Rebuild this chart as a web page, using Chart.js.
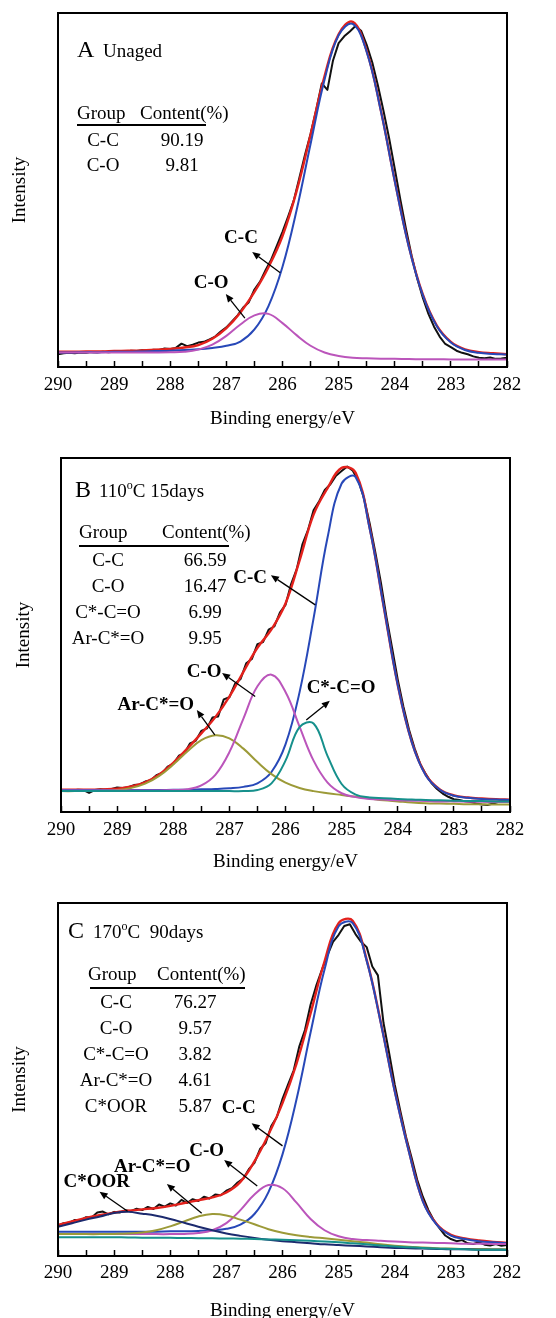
<!DOCTYPE html>
<html>
<head>
<meta charset="utf-8">
<title>C1s XPS spectra</title>
<script src="https://cdn.jsdelivr.net/npm/chart.js@4.4.1/dist/chart.umd.min.js"></script>
<style>
  html, body { margin: 0; padding: 0; background: #fff; overflow: hidden; }
  body { width: 556px; height: 1318px; position: relative; }
  canvas { position: absolute; left: 0; }
</style>
</head>
<body>
<canvas id="panelA" width="556" height="440" style="top:0"></canvas>
<canvas id="panelB" width="556" height="440" style="top:440px"></canvas>
<canvas id="panelC" width="556" height="460" style="top:880px"></canvas>
<script>
// sampling grids in binding energy (eV): fitted peaks every 0.25, raw spectra every 0.1
function steps(from, to, step) {
  const out = [];
  const n = Math.round((from - to) / step);
  for (let i = 0; i <= n; i++) out.push(+(from - i * step).toFixed(2));
  return out;
}
const energyFit = steps(290, 282, 0.25);
const energyRaw = steps(290, 282, 0.1);
const xTickLabels = [290, 289, 288, 287, 286, 285, 284, 283, 282];

// ---- A: unaged ----
const aGroups = ['C-C', 'C-O'];
const aContent = ['90.19', '9.81'];
const aRaw = [3.6,3.9,4.0,3.9,4.1,4.0,4.2,4.1,4.3,4.2,
  4.3,4.4,4.3,4.6,4.5,4.7,4.6,4.9,4.8,5.2,
  5.1,5.4,6.6,5.9,6.3,6.9,7.1,7.8,8.6,10.0,
  11.2,12.9,14.6,16.8,18.3,21.9,24.1,27.4,30.4,34.3,
  38.2,42.5,47.0,53.4,59.9,65.8,72.6,80.1,78.3,86.6,
  91.5,93.4,94.8,96.3,95.0,91.0,86.0,79.5,72.3,64.6,
  56.0,47.3,39.0,31.5,25.0,19.6,15.0,11.4,8.6,6.5,
  5.6,4.6,4.0,3.6,3.0,2.6,2.5,2.7,2.3,2.4,
  2.6];
const aFit = [4.3,4.3,4.4,4.4,4.5,4.6,4.7,4.9,5.1,5.5,
  6.2,8.0,11.0,15.4,21.2,28.2,37.0,49.6,65.6,82.2,
  94.0,97.5,89.3,72.7,52.7,34.2,20.5,11.7,7.1,5.0,
  4.2,3.9,3.6];
const aCC = [4.1,4.1,4.2,4.2,4.3,4.3,4.4,4.5,4.6,4.8,
  5.0,5.4,6.0,7.2,10.6,17.2,28.3,44.2,63.0,81.2,
  93.7,96.9,89.0,72.5,52.5,34.0,20.3,11.5,6.9,4.8,
  4.0,3.7,3.5];
const aCO = [4.1,4.1,4.1,4.1,4.1,4.1,4.1,4.1,4.15,4.3,
  4.9,6.3,8.8,12.0,14.6,15.0,12.4,9.0,6.0,4.1,
  3.1,2.6,2.45,2.35,2.3,2.25,2.2,2.2,2.15,2.15,
  2.1,2.1,2.1];

// ---- B: 110 C, 15 days ----
const bGroups = ['C-C', 'C-O', 'C*-C=O', 'Ar-C*=O'];
const bContent = ['66.59', '16.47', '6.99', '9.95'];
const bRaw = [6.0,6.2,6.1,6.3,6.2,5.4,6.2,6.4,6.3,6.5,
  6.9,6.8,7.0,7.6,7.8,8.6,9.0,10.4,11.0,12.8,
  13.6,15.9,16.6,19.4,20.1,22.9,23.6,26.7,27.0,31.8,
  32.4,36.2,37.6,42.0,43.2,47.4,48.0,51.5,52.4,56.3,
  58.5,64.4,68.6,75.5,79.6,85.2,87.8,91.0,92.6,95.0,
  96.3,97.6,96.4,93.5,88.6,81.5,73.4,64.8,55.0,46.3,
  37.4,29.8,23.3,18.0,13.6,10.7,8.2,6.5,5.2,4.3,
  3.6,3.4,3.0,2.8,2.4,2.1,2.0,2.4,2.9,3.3,
  3.0];
const bFit = [6.3,6.3,6.3,6.4,6.6,7.2,8.4,10.6,13.9,17.9,
  22.2,26.8,32.6,39.6,46.4,51.6,58.9,71.0,84.0,91.5,
  97.2,95.8,80.3,58.0,35.9,19.8,10.5,6.4,4.7,4.1,
  3.8,3.6,3.5];
const bCC = [6.2,6.2,6.2,6.2,6.2,6.2,6.2,6.2,6.3,6.3,
  6.4,6.5,6.7,7.1,8.1,11.3,19.1,33.8,54.7,77.6,
  92.8,94.6,80.0,58.1,35.9,19.7,10.3,6.3,4.6,4.0,
  3.7,3.5,3.4];
const bCO = [6.1,6.1,6.1,6.1,6.1,6.1,6.1,6.1,6.2,6.4,
  7.5,10.5,16.9,26.4,35.5,38.8,33.9,24.1,14.5,8.3,
  5.3,4.2,3.7,3.5,3.3,3.2,3.1,3.0,3.0,2.9,
  2.9,2.8,2.8];
const bCCO = [5.9,5.9,5.9,5.9,5.9,5.9,5.9,5.9,5.9,5.9,
  5.9,5.9,5.9,5.9,6.2,8.1,14.5,24.0,25.0,15.8,
  7.9,4.9,4.1,3.9,3.7,3.5,3.4,3.3,3.2,3.1,
  3.1,3.0,3.0];
const bArCO = [5.9,5.9,5.95,6.0,6.2,6.8,8.0,10.2,13.4,17.1,
  20.3,21.7,20.8,17.9,14.1,10.7,8.3,6.8,5.9,5.3,
  4.8,4.3,3.8,3.3,3.0,2.7,2.5,2.4,2.3,2.2,
  2.2,2.1,2.1];

// ---- C: 170 C, 90 days ----
const cGroups = ['C-C', 'C-O', 'C*-C=O', 'Ar-C*=O', 'C*OOR'];
const cContent = ['76.27', '9.57', '3.82', '4.61', '5.87'];
const cRaw = [8.6,9.3,9.4,10.2,10.1,11.0,10.9,12.3,12.6,11.8,
  12.5,12.3,13.0,12.7,13.4,13.0,13.9,13.3,14.6,14.0,
  14.9,14.3,15.9,15.0,16.1,15.6,16.8,16.3,17.4,17.2,
  18.5,19.2,20.8,21.9,24.6,26.4,30.3,32.0,36.8,39.4,
  44.5,48.6,52.6,59.4,64.0,71.2,76.5,81.0,85.2,89.0,
  91.0,93.5,94.0,91.2,89.0,87.5,82.0,79.5,66.0,57.5,
  48.5,41.0,33.8,27.8,21.6,16.8,13.0,10.0,7.8,5.8,
  4.8,4.2,4.5,3.6,3.4,3.9,3.2,3.0,3.4,2.9,
  3.1];
const cFit = [8.8,9.8,10.8,11.6,12.3,12.8,13.2,13.6,14.2,15.0,
  15.8,16.6,18.0,21.0,26.8,34.4,43.3,54.5,68.7,83.5,
  94.3,95.0,83.9,66.3,46.8,29.9,15.7,9.0,6.0,5.0,
  4.4,4.0,3.7];
const cCC = [6.9,6.9,6.9,6.9,6.9,6.9,6.9,6.9,7.0,7.0,
  7.1,7.3,7.7,8.9,11.9,18.1,28.8,44.4,63.3,81.2,
  93.4,94.3,83.6,66.1,46.6,29.7,15.5,8.8,5.8,4.8,
  4.2,3.9,3.6];
const cCO = [6.2,6.2,6.2,6.2,6.2,6.2,6.2,6.2,6.2,6.25,
  6.5,7.3,9.3,13.0,17.4,20.1,19.2,15.1,10.5,7.3,
  5.6,4.8,4.5,4.3,4.1,3.9,3.8,3.7,3.6,3.5,
  3.5,3.4,3.4];
const cCCO = [5.3,5.3,5.3,5.3,5.3,5.25,5.2,5.2,5.15,5.1,
  5.05,5.0,4.95,4.9,4.8,4.7,4.6,4.45,4.3,4.1,
  3.9,3.6,3.3,3.0,2.7,2.5,2.3,2.1,2.0,1.9,
  1.8,1.8,1.7];
const cArCO = [6.2,6.2,6.2,6.2,6.25,6.35,6.65,7.3,8.4,9.8,
  11.2,11.9,11.5,10.3,9.0,7.6,6.6,5.9,5.4,5.0,
  4.6,4.2,3.8,3.3,2.9,2.6,2.4,2.2,2.1,2.0,
  2.0,1.9,1.9];
const cCOOR = [8.3,9.3,10.3,11.2,12.2,12.5,12.0,11.4,10.5,9.4,
  8.3,7.3,6.4,5.7,5.1,4.6,4.2,3.9,3.6,3.3,
  3.1,2.9,2.7,2.5,2.3,2.2,2.1,2.0,1.9,1.9,
  1.8,1.8,1.7];

const serif = '"Liberation Serif", "Times New Roman", serif';
const colors = {
  raw: '#111111', fit: '#e3211c', cc: '#2748b8', co: '#bb55bb',
  cco: '#16908c', arco: '#9c9a38', coor: '#1c2a6e'
};

function pairs(xs, ys) {
  return ys.map((y, i) => ({ x: xs[i], y }));
}

function line(data, color, tension, width) {
  return {
    data, borderColor: color, borderWidth: width, pointRadius: 0,
    tension, fill: false, borderJoinStyle: 'round'
  };
}

// frame, heading, group table and arrowed peak labels
const notesPlugin = {
  id: 'notes',
  afterDraw(chart) {
    const n = chart.options.plugins.notes;
    const { ctx, chartArea: a, scales } = chart;
    ctx.save();

    ctx.strokeStyle = '#000';
    ctx.lineWidth = 2;
    ctx.strokeRect(a.left, a.top, a.right - a.left, a.bottom - a.top);

    ctx.fillStyle = '#000';
    ctx.textBaseline = 'alphabetic';
    ctx.textAlign = 'left';
    ctx.font = '24px ' + serif;
    ctx.fillText(n.heading.letter, n.heading.x, n.heading.y);
    let hx = n.heading.textX;
    n.heading.parts.forEach(p => {
      ctx.font = (p.sup ? '12px ' : '19px ') + serif;
      ctx.fillText(p.t, hx, n.heading.y - (p.sup ? 8 : 0));
      hx += ctx.measureText(p.t).width;
    });

    const t = n.table;
    ctx.font = '19px ' + serif;
    ctx.fillText('Group', t.groupHeadX, t.headY);
    ctx.fillText('Content(%)', t.contentHeadX, t.headY);
    ctx.lineWidth = 2;
    ctx.beginPath();
    ctx.moveTo(t.ruleX0, t.ruleY);
    ctx.lineTo(t.ruleX1, t.ruleY);
    ctx.stroke();
    ctx.textAlign = 'center';
    t.groups.forEach((g, i) => {
      const y = t.rowY + i * t.rowStep;
      ctx.fillText(g, t.groupX, y);
      ctx.fillText(t.content[i], t.contentX, y);
    });

    const xs = scales.x, ys = scales.y;
    ctx.font = 'bold 19px ' + serif;
    ctx.textBaseline = 'middle';
    ctx.lineWidth = 1.3;
    n.callouts.forEach(c => {
      ctx.fillText(c.text, xs.getPixelForValue(c.at[0]), ys.getPixelForValue(c.at[1]));
      const x0 = xs.getPixelForValue(c.from[0]), y0 = ys.getPixelForValue(c.from[1]);
      const x1 = xs.getPixelForValue(c.to[0]), y1 = ys.getPixelForValue(c.to[1]);
      const ang = Math.atan2(y1 - y0, x1 - x0);
      const len = 8, half = 3.5;
      const bx = x1 - len * Math.cos(ang), by = y1 - len * Math.sin(ang);
      ctx.beginPath();
      ctx.moveTo(x0, y0);
      ctx.lineTo(bx, by);
      ctx.stroke();
      ctx.beginPath();
      ctx.moveTo(x1, y1);
      ctx.lineTo(bx + half * Math.sin(ang), by - half * Math.cos(ang));
      ctx.lineTo(bx - half * Math.sin(ang), by + half * Math.cos(ang));
      ctx.closePath();
      ctx.fill();
    });
    ctx.restore();
  }
};

function drawPanel(p) {
  const b = p.box;
  const datasets = p.parts.map(s => line(pairs(energyFit, s.data), s.color, 0.4, 2));
  datasets.push(line(pairs(energyFit, p.fit), colors.fit, 0.4, 2.4));
  datasets.push(line(pairs(energyRaw, p.raw), colors.raw, 0, 2));

  return new Chart(document.getElementById(p.id), {
    type: 'line',
    data: { datasets },
    plugins: [notesPlugin],
    options: {
      responsive: false,
      animation: false,
      events: [],
      layout: { padding: { left: 0, top: b.top, right: 556 - b.right, bottom: 0 } },
      plugins: {
        legend: { display: false },
        tooltip: { enabled: false },
        notes: p.notes
      },
      scales: {
        x: {
          type: 'linear', reverse: true, min: 282, max: 290,
          ticks: {
            stepSize: 0.5, autoSkip: false, maxRotation: 0, padding: b.tickPad,
            color: '#000', font: { family: serif, size: 19 },
            callback: v => xTickLabels.includes(v) ? String(v) : ''
          },
          grid: {
            display: true, drawOnChartArea: false, drawTicks: true,
            tickLength: -6, tickWidth: 1.5, tickColor: '#000'
          },
          border: { display: false },
          title: {
            display: true, text: 'Binding energy/eV', color: '#000',
            font: { family: serif, size: 19 }, padding: { top: 0, bottom: b.xTitlePad }
          },
          afterFit: s => { s.height = b.h - b.bottom; }
        },
        y: {
          type: 'linear', min: 0, max: 100,
          ticks: { display: false },
          grid: { display: false },
          border: { display: false },
          title: {
            display: true, text: 'Intensity', color: '#000',
            font: { family: serif, size: 19 }, padding: { top: b.yTitlePad, bottom: 0 }
          },
          afterFit: s => { s.width = b.left; }
        }
      }
    }
  });
}

drawPanel({
  id: 'panelA',
  box: { h: 440, top: 13, bottom: 367, left: 58, right: 507, tickPad: 13, xTitlePad: 10, yTitlePad: 9 },
  raw: aRaw, fit: aFit,
  parts: [{ data: aCO, color: colors.co }, { data: aCC, color: colors.cc }],
  notes: {
    heading: { letter: 'A', x: 77, y: 57, textX: 103, parts: [{ t: 'Unaged' }] },
    table: {
      groups: aGroups, content: aContent,
      groupHeadX: 77, contentHeadX: 140, headY: 119,
      ruleX0: 77, ruleX1: 206, ruleY: 125,
      groupX: 103, contentX: 182, rowY: 146, rowStep: 25
    },
    callouts: [
      { text: 'C-C', at: [286.74, 36.4], from: [286.04, 26.6], to: [286.54, 32.5] },
      { text: 'C-O', at: [287.27, 23.7], from: [286.67, 13.8], to: [287.01, 20.6] }
    ]
  }
});

drawPanel({
  id: 'panelB',
  box: { h: 440, top: 18, bottom: 372, left: 61, right: 510, tickPad: 13, xTitlePad: 7, yTitlePad: 13 },
  raw: bRaw, fit: bFit,
  parts: [
    { data: bCCO, color: colors.cco }, { data: bCO, color: colors.co },
    { data: bArCO, color: colors.arco }, { data: bCC, color: colors.cc }
  ],
  notes: {
    heading: { letter: 'B', x: 75, y: 57, textX: 99,
      parts: [{ t: '110' }, { t: 'o', sup: true }, { t: 'C 15days' }] },
    table: {
      groups: bGroups, content: bContent,
      groupHeadX: 79, contentHeadX: 162, headY: 98,
      ruleX0: 79, ruleX1: 229, ruleY: 106,
      groupX: 108, contentX: 205, rowY: 126, rowStep: 26
    },
    callouts: [
      { text: 'C-C', at: [286.63, 66.1], from: [285.47, 58.5], to: [286.26, 66.9] },
      { text: 'C-O', at: [287.45, 39.6], from: [286.54, 32.6], to: [287.13, 39.3] },
      { text: 'C*-C=O', at: [285.01, 34.9], from: [285.63, 26.0], to: [285.21, 31.4] },
      { text: 'Ar-C*=O', at: [288.31, 30.2], from: [287.26, 21.8], to: [287.58, 28.8] }
    ]
  }
});

drawPanel({
  id: 'panelC',
  box: { h: 460, top: 23, bottom: 376, left: 58, right: 507, tickPad: 12, xTitlePad: 18, yTitlePad: 9 },
  raw: cRaw, fit: cFit,
  parts: [
    { data: cCCO, color: colors.cco }, { data: cCOOR, color: colors.coor },
    { data: cArCO, color: colors.arco }, { data: cCO, color: colors.co },
    { data: cCC, color: colors.cc }
  ],
  notes: {
    heading: { letter: 'C', x: 68, y: 58, textX: 93,
      parts: [{ t: '170' }, { t: 'o', sup: true }, { t: 'C  90days' }] },
    table: {
      groups: cGroups, content: cContent,
      groupHeadX: 88, contentHeadX: 157, headY: 100,
      ruleX0: 90, ruleX1: 245, ruleY: 108,
      groupX: 116, contentX: 195, rowY: 128, rowStep: 26
    },
    callouts: [
      { text: 'C-C', at: [286.78, 41.8], from: [286.0, 31.2], to: [286.55, 37.6] },
      { text: 'C-O', at: [287.35, 29.8], from: [286.45, 19.8], to: [287.04, 27.2] },
      { text: 'Ar-C*=O', at: [288.32, 25.1], from: [287.44, 12.1], to: [288.06, 20.4] },
      { text: 'C*OOR', at: [289.31, 21.0], from: [288.76, 12.7], to: [289.26, 18.2] }
    ]
  }
});
</script>
</body>
</html>
